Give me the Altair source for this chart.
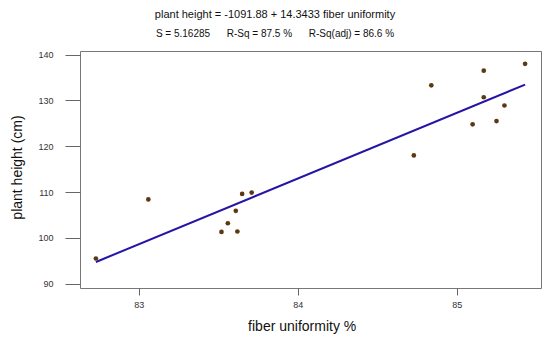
import altair as alt
import pandas as pd

# data
fiber_uniformity = [82.73, 83.06, 83.52, 83.56, 83.61, 83.62, 83.65, 83.71,
                    84.73, 84.84, 85.10, 85.17, 85.17, 85.25, 85.30, 85.43]
plant_height = [95.5, 108.4, 101.3, 103.2, 105.9, 101.4, 109.6, 109.9,
                118.0, 133.3, 124.8, 130.7, 136.5, 125.5, 128.9, 138.0]

intercept = -1091.88
slope = 14.3433
title_text = "plant height = -1091.88 + 14.3433 fiber uniformity"
gap = "\u00a0" * 6
subtitle_text = f"S = 5.16285{gap}R-Sq = 87.5 %{gap}R-Sq(adj) = 86.6 %"

x_ticks = [83, 84, 85]
y_ticks = [90, 100, 110, 120, 130, 140]

pts = pd.DataFrame({"x": fiber_uniformity, "y": plant_height})
line_df = pd.DataFrame({"x": [min(fiber_uniformity), max(fiber_uniformity)]})

FONT = "Liberation Sans"

xscale = alt.Scale(domain=[82.63, 85.53], nice=False, zero=False)
yscale = alt.Scale(domain=[89.06, 140.8], nice=False, zero=False)

xaxis = alt.Axis(values=x_ticks, format="d", title="fiber uniformity %", grid=False,
                 domain=False, tickSize=7, tickColor="#666", labelPadding=5,
                 labelFontSize=9, labelColor="#333", labelFont=FONT, titleFont=FONT,
                 titleFontSize=14, titleFontWeight="normal", titleColor="#111",
                 titleX=221.7, titleY=42.5, titleBaseline="alphabetic",
                 titleAlign="center")
yaxis = alt.Axis(values=y_ticks, format="d", title="plant height (cm)", grid=False,
                 domain=False, tickSize=15, tickColor="#666", labelPadding=12,
                 labelFontSize=9, labelColor="#333", labelFont=FONT, titleFont=FONT,
                 titleFontSize=14, titleFontWeight="normal", titleColor="#111",
                 titleX=-58.5, titleY=116, titleAngle=270,
                 titleBaseline="alphabetic", titleAlign="center")

points = alt.Chart(pts).mark_circle(size=22, color="#5b3a12", opacity=1).encode(
    x=alt.X("x:Q", scale=xscale, axis=xaxis),
    y=alt.Y("y:Q", scale=yscale, axis=yaxis),
)

line = alt.Chart(line_df).transform_calculate(
    y=f"{intercept} + {slope} * datum.x"
).mark_line(color="#2514a6", strokeWidth=2).encode(
    x=alt.X("x:Q", scale=xscale),
    y=alt.Y("y:Q", scale=yscale),
)

chart = alt.layer(line, points).properties(
    width=461, height=237,
    title=alt.TitleParams(text=title_text, subtitle=subtitle_text, font=FONT,
                          fontSize=11, fontWeight="normal", color="#111",
                          subtitleFont=FONT, subtitleFontSize=10, subtitleColor="#111",
                          subtitlePadding=9, anchor="middle", frame="group",
                          dx=-35.5, offset=12),
    autosize=alt.AutoSizeParams(type="none"),
    padding={"left": 72, "top": 43, "right": 1, "bottom": 46},
    background="white",
).configure_view(stroke="#777", strokeWidth=1)

chart.save("out.html", embed_options={"renderer": "svg", "actions": False})
